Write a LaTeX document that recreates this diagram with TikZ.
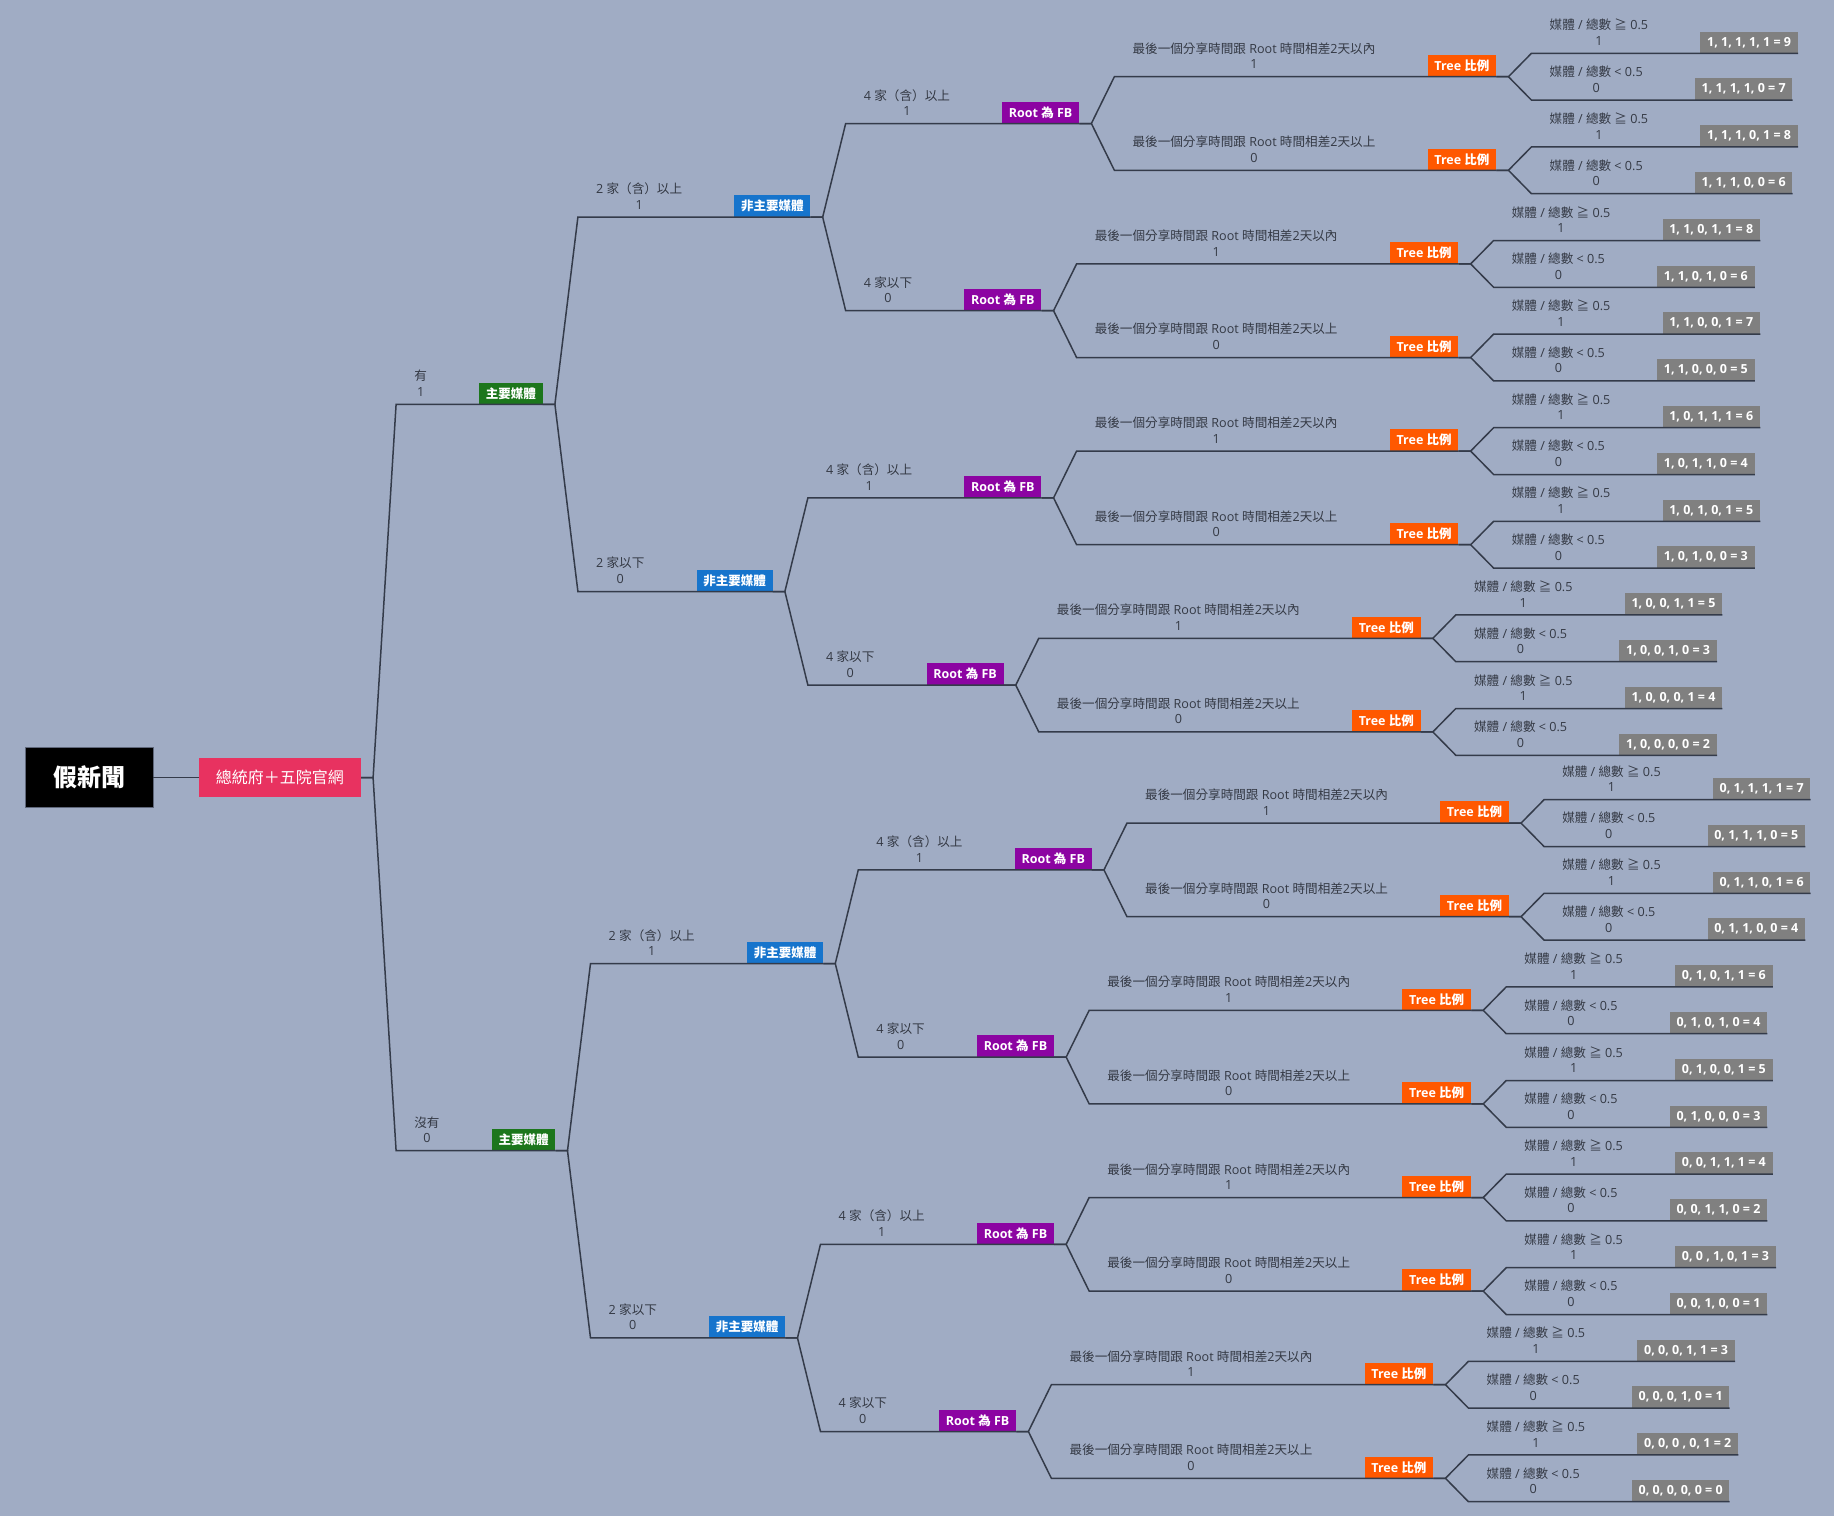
\documentclass[tikz,border=0pt]{standalone}
\usepackage{fontspec}
\setmainfont{Open Sans}
\newfontfamily\latinfont{Open Sans}
\newfontfamily\cjkfont{Noto Sans CJK TC}
% ideographs and full-width forms are set in the CJK face
\XeTeXinterchartokenstate=1
\newXeTeXintercharclass\cjkclass
\newcount\charidx
\charidx="3000
\loop\ifnum\charidx<"A000 \XeTeXcharclass\charidx=\cjkclass \advance\charidx by 1 \repeat
\charidx="FF00
\loop\ifnum\charidx<"FFF0 \XeTeXcharclass\charidx=\cjkclass \advance\charidx by 1 \repeat
\XeTeXcharclass"2267=\cjkclass
\XeTeXinterchartoks 0 \cjkclass = {\cjkfont}
\XeTeXinterchartoks 4095 \cjkclass = {\cjkfont}
\XeTeXinterchartoks \cjkclass 0 = {\latinfont}
\XeTeXinterchartoks \cjkclass 4095 = {\latinfont}

\definecolor{bgcol}{RGB}{160,172,196}
\definecolor{linecol}{RGB}{52,59,74}
\definecolor{txtcol}{RGB}{52,57,68}
\definecolor{framecol}{RGB}{95,103,122}
\definecolor{pinkcol}{RGB}{232,50,96}
\definecolor{greencol}{RGB}{28,118,28}
\definecolor{bluecol}{RGB}{22,116,204}
\definecolor{purplecol}{RGB}{140,4,162}
\definecolor{orangecol}{RGB}{255,88,0}
\definecolor{graycol}{RGB}{128,128,128}

\tikzset{
  edge/.style={draw=linecol, line width=1.5pt},
  lbl/.style={inner sep=0pt, align=center, text=txtcol, font=\fontsize{12.6}{15.6}\selectfont},
  tag/.style={inner xsep=6.8pt, inner ysep=0pt, minimum height=21.5pt, text=white,
    font=\fontsize{12.5}{15}\selectfont\bfseries},
  majorbox/.style={tag, fill=greencol},
  minorbox/.style={tag, fill=bluecol},
  fbbox/.style={tag, fill=purplecol},
  ratiobox/.style={tag, fill=orangecol},
  leafbox/.style={tag, fill=graycol},
  rootbox/.style={fill=black, draw=framecol, line width=0.8pt, minimum width=127.3pt,
    minimum height=60pt, text=white, font=\fontsize{24}{28}\selectfont\bfseries},
  sitebox/.style={fill=pinkcol, inner xsep=17pt, inner ysep=0pt, minimum height=39.3pt,
    text=white, font=\fontsize{16}{19}\selectfont},
}

% #1 parent, #2 name, #3 y, #4 label, #5 value, #6 box style, #7 box text
\newcommand\twig[7]{%
  \path (#1-o) ++(35,0) coordinate (#2-x);
  \coordinate (#2-y) at (0,#3);
  \coordinate (#2-s) at (#2-x |- #2-y);
  \node[lbl, anchor=south west] (#2-l) at ([shift={(18,-7.7)}]#2-s) {#4\\#5};
  \path (#2-l.east |- #2-s) ++(51.8,0) node[#6, anchor=south west] (#2) {#7};
  \coordinate (#2-o) at (#2.south east);
  \draw[edge] (#1-o) -- ++(12,0) -- (#2-s) -- (#2-o);
}

\expandafter\def\csname typo00101\endcsname{0, 0 , 1, 0, 1 = 3}
\expandafter\def\csname typo00001\endcsname{0, 0, 0 , 0, 1 = 2}

\begin{document}
\begin{tikzpicture}[x=1pt, y=-1pt]
  \fill[bgcol] (0,0) rectangle (1834,1516);
  \useasboundingbox (0,0) rectangle (1834,1516);
  \node[rootbox] (news) at (89.4,777.7) {假新聞};
  \node[sitebox, anchor=west] (site) at (198.7,777.7) {總統府＋五院官網};
  \draw[edge] (news) -- (site);
  \coordinate (site-o) at (site.east);
  \foreach \ia in {1,0}{
    \pgfmathsetmacro\ya{\ia ? 404.3 : 1150.7}
    \ifnum\ia=1 \def\lab{有}\else\def\lab{沒有}\fi
    \twig{site}{m\ia}{\ya}{\lab}{\ia}{majorbox}{主要媒體}
    \foreach \ib in {1,0}{
      \pgfmathsetmacro\yb{\ya+187.2*(1-2*\ib)}
      \ifnum\ib=1 \def\lab{2 家（含）以上}\else\def\lab{2 家以下}\fi
      \twig{m\ia}{m\ia\ib}{\yb}{\lab}{\ib}{minorbox}{非主要媒體}
      \foreach \ic in {1,0}{
        \pgfmathsetmacro\yc{\yb+93.6*(1-2*\ic)}
        \ifnum\ic=1 \def\lab{4 家（含）以上}\else\def\lab{4 家以下}\fi
        \twig{m\ia\ib}{m\ia\ib\ic}{\yc}{\lab}{\ic}{fbbox}{Root 為 FB}
        \foreach \id in {1,0}{
          \pgfmathsetmacro\yd{\yc+46.8*(1-2*\id)}
          \ifnum\id=1 \def\lab{最後一個分享時間跟 Root 時間相差2天以內}\else\def\lab{最後一個分享時間跟 Root 時間相差2天以上}\fi
          \twig{m\ia\ib\ic}{m\ia\ib\ic\id}{\yd}{\lab}{\id}{ratiobox}{Tree 比例}
          \foreach \ie in {1,0}{
            \pgfmathsetmacro\ye{\yd+23.4*(1-2*\ie)}
            \ifnum\ie=1 \def\lab{媒體 / 總數 ≧ 0.5}\else\def\lab{媒體 / 總數 < 0.5}\fi
            \pgfmathtruncatemacro\score{2*\ia+3*\ib+\ic+\id+2*\ie}
            \edef\leaf{\ia, \ib, \ic, \id, \ie{} = \score}
            \ifcsname typo\ia\ib\ic\id\ie\endcsname
              \edef\leaf{\csname typo\ia\ib\ic\id\ie\endcsname}\fi
            \twig{m\ia\ib\ic\id}{m\ia\ib\ic\id\ie}{\ye}{\lab}{\ie}{leafbox}{\leaf}
          }
        }
      }
    }
  }
\end{tikzpicture}
\end{document}
